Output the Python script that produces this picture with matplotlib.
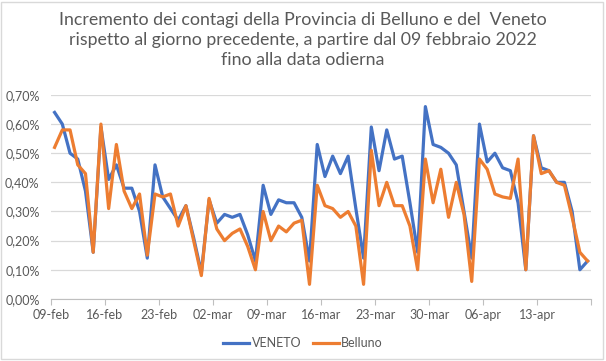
import numpy as np
import matplotlib
matplotlib.use("Agg")
import matplotlib.pyplot as plt
from matplotlib.patches import Rectangle

# daily increase (%) from 09-feb-2022, one value per day
veneto = [0.64, 0.60, 0.50, 0.48, 0.37, 0.16, 0.59, 0.41, 0.46, 0.38,
          0.38, 0.30, 0.14, 0.46, 0.35, 0.31, 0.27, 0.32, 0.21, 0.09,
          0.34, 0.26, 0.29, 0.28, 0.29, 0.22, 0.13, 0.39, 0.29, 0.34,
          0.33, 0.33, 0.28, 0.13, 0.53, 0.42, 0.49, 0.43, 0.49, 0.31,
          0.14, 0.59, 0.44, 0.58, 0.48, 0.49, 0.33, 0.16, 0.66, 0.53,
          0.52, 0.50, 0.46, 0.30, 0.14, 0.60, 0.47, 0.50, 0.45, 0.44,
          0.33, 0.10, 0.56, 0.45, 0.44, 0.40, 0.40, 0.30, 0.10, 0.13]
belluno = [0.52, 0.58, 0.58, 0.46, 0.43, 0.16, 0.60, 0.31, 0.53, 0.37,
           0.31, 0.36, 0.15, 0.36, 0.35, 0.36, 0.25, 0.32, 0.20, 0.08,
           0.345, 0.24, 0.20, 0.225, 0.24, 0.18, 0.10, 0.30, 0.20, 0.25,
           0.23, 0.26, 0.27, 0.05, 0.39, 0.32, 0.31, 0.28, 0.30, 0.25,
           0.05, 0.51, 0.32, 0.40, 0.32, 0.32, 0.25, 0.10, 0.48, 0.33,
           0.445, 0.28, 0.40, 0.29, 0.06, 0.48, 0.445, 0.36, 0.35, 0.345,
           0.48, 0.10, 0.56, 0.43, 0.44, 0.40, 0.39, 0.28, 0.16, 0.13]
week_labels = ["09-feb", "16-feb", "23-feb", "02-mar", "09-mar",
               "16-mar", "23-mar", "30-mar", "06-apr", "13-apr", ""]
y_ticks = [0.0, 0.1, 0.2, 0.3, 0.4, 0.5, 0.6, 0.7]

grey = "#595959"
plt.rcParams['font.family'] = ['Lato', 'DejaVu Sans']

fig = plt.figure(figsize=(6.06, 3.61), dpi=100)
ax = fig.add_axes([0.0837, 0.172, 0.8923, 0.565])

x = np.arange(len(veneto)) + 0.5
ax.plot(x, veneto, color="#4472C4", lw=2.3, label="VENETO", solid_joinstyle="round")
ax.plot(x, belluno, color="#ED7D31", lw=2.3, label="Belluno", solid_joinstyle="round")

ax.set_xlim(0, 70)
ax.set_ylim(0, 0.7)
ax.set_yticks(y_ticks)
ax.set_yticklabels([("%.2f%%" % v).replace(".", ",") for v in y_ticks])
ax.set_xticks(np.arange(0, 71, 7))
ax.set_xticklabels(week_labels)
ax.grid(axis="y", color="#D9D9D9", lw=0.9)
ax.set_axisbelow(True)
for s in ["top", "right", "left"]:
    ax.spines[s].set_visible(False)
ax.spines["bottom"].set_color("#BFBFBF")
ax.tick_params(axis="y", length=0, pad=8, labelsize=9, labelcolor=grey)
ax.tick_params(axis="x", length=4, color="#BFBFBF", pad=3, labelsize=9, labelcolor=grey)

fig.text(0.5, 0.966, "Incremento dei contagi della Provincia di Belluno e del  Veneto\n"
         "rispetto al giorno precedente, a partire dal 09 febbraio 2022\n"
         "fino alla data odierna", ha="center", va="top", fontsize=12.8,
         color=grey, linespacing=1.3)

fig.legend(loc="center", bbox_to_anchor=(0.5, 0.05), ncol=2, frameon=False,
           fontsize=9, labelcolor=grey, handlelength=2.1, handletextpad=0.2,
           columnspacing=0.9)

fig.patches.append(Rectangle((0.002, 0.005), 0.993, 0.99, transform=fig.transFigure,
                             fill=False, edgecolor="#D9D9D9", lw=1))

fig.savefig("out.png", dpi=100)
